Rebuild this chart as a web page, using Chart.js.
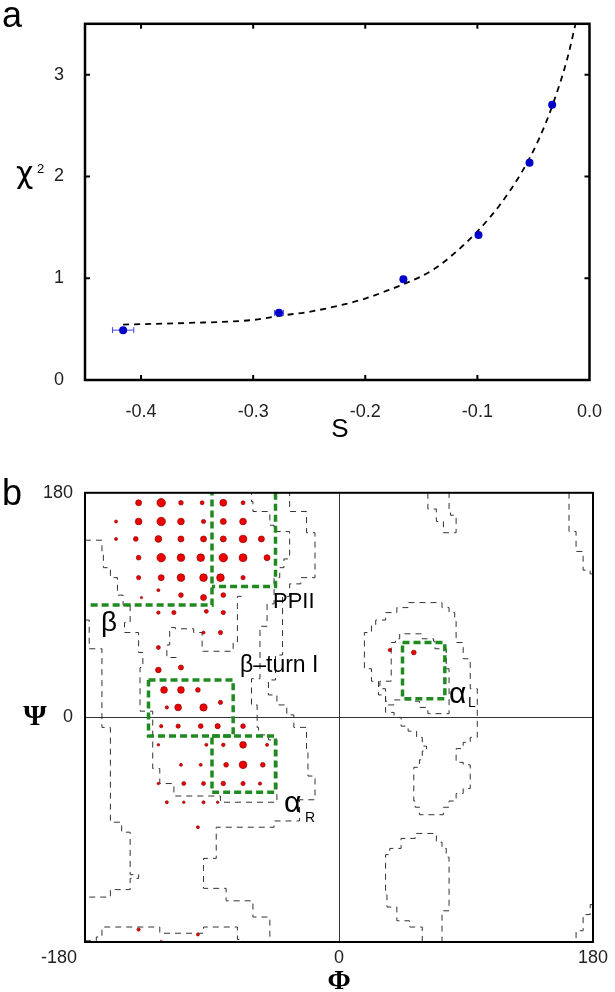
<!DOCTYPE html>
<html>
<head>
<meta charset="utf-8">
<script src="https://cdn.jsdelivr.net/npm/chart.js@4.4.1/dist/chart.umd.min.js"></script>
<style>
html, body { margin: 0; padding: 0; background: #fff; }
#wrapA { position: absolute; left: 0; top: 0; width: 615px; height: 470px; }
#wrapB { position: absolute; left: 0; top: 470px; width: 615px; height: 522px; }
</style>
</head>
<body>
<div id="wrapA"><canvas id="chartA" width="615" height="470"></canvas></div>
<div id="wrapB"><canvas id="chartB" width="615" height="522"></canvas></div>
<script>
// ---- panel a: chi^2 vs S ----
const sVals   = [-0.416, -0.277, -0.166, -0.099, -0.0535, -0.0333];
const chiVals = [0.49, 0.66, 0.99, 1.425, 2.135, 2.705];
const sErr    = [0.0095, 0.004, 0.002, 0.002, 0.002, 0.002];
const fitS    = [-0.416, -0.36, -0.30, -0.277, -0.25, -0.22, -0.20, -0.18, -0.166, -0.14, -0.12, -0.10, -0.08, -0.06, -0.045, -0.033, -0.02, -0.012];
const fitChi  = [0.545, 0.56, 0.59, 0.63, 0.67, 0.74, 0.80, 0.88, 0.94, 1.08, 1.25, 1.46, 1.72, 2.05, 2.37, 2.70, 3.15, 3.52];
const sTicks   = [-0.4, -0.3, -0.2, -0.1, 0];
const chiTicks = [0, 1, 2, 3];

// ---- panel b: Ramachandran map (phi, psi, relative population) ----
const dotPhi = [
  -142, -126, -112, -97, -82, -68,
  -158, -142, -126, -112, -96, -82, -68,
  -158, -144, -128, -112, -96, -82, -68, -55,
  -142, -126, -112, -98, -82, -68, -51,
  -142, -126, -112, -96, -84, -68,
  -140, -128, -112, -96, -82,
  -128, -117, -94, -82,
  -96, -84,
  -128,
  -128, -112,
  -124, -112, -100,
  -122, -114, -96, -84,
  -126, -114, -98, -86, -68,
  -128, -94, -82, -68, -51,
  -112, -98, -80, -68, -54,
  -128, -110, -96, -82, -68, -56,
  -122, -110, -96, -86,
  -100,
  -142, -100, -126,
  36, 53
];
const dotPsi = [
  172, 172, 172, 172, 172, 172,
  157, 157, 157, 157, 157, 157, 157,
  143, 143, 143, 143, 143, 143, 143, 143,
  128, 128, 128, 128, 128, 128, 128,
  112, 112, 112, 112, 112, 112,
  96, 102, 98, 96, 98,
  84, 84, 85, 84,
  68, 68,
  56,
  38, 40,
  22, 22, 22,
  8, 8, 8, 12,
  -7, -7, -7, -7, -7,
  -22, -22, -22, -22, -22,
  -38, -38, -38, -38, -38,
  -53, -53, -53, -53, -53, -53,
  -68, -68, -68, -68,
  -88,
  -170, -174, -180,
  54, 52
];
const dotPop = [
  4, 8, 2.4, 1.7, 5.3, 1.7,
  1, 5, 8, 5, 2, 4, 5,
  1, 2.5, 5, 4, 4, 4, 6.5, 4,
  2.5, 8, 6.5, 6.5, 8, 7, 4,
  2, 4, 6.5, 6.5, 6.5, 2,
  0.6, 1, 2.5, 4, 2.5,
  1.3, 2, 1.7, 2,
  1, 2,
  1.7,
  3.5, 2.8,
  5, 5, 2.5,
  1.2, 5, 6, 2,
  1.2, 2, 2.5, 3, 2.5,
  0.7, 1, 1.4, 5, 1,
  1, 1, 2.5, 6.5, 2.5,
  0.7, 1.7, 1.7, 2.3, 2, 1.2,
  1, 0.7, 1, 0.7,
  1,
  1.2, 1, 1,
  1.2, 2.5
];
const angleTicks = [-180, 0, 180];

// density contours, [phi, psi] vertices
const contourLeftOuter = [[-180,78],[-177,78],[-177,55],[-169,55],[-168,30],[-168,-8],[-162,-38],[-162,-84],[-154,-92],[-148,-97],[-148,-126],[-142,-129],[-148,-138],[-162,-144],[-180,-147]];
const contourLeftInner = [[-180,142],[-176,142],[-168,132],[-167,120],[-162,112],[-157,98],[-153,90],[-148,76],[-152,68],[-142,52],[-139,40],[-141,31],[-141,5],[-132,-7],[-132,-41],[-127,-53],[-117,-63],[-84,-63],[-84,-68],[-46,-68],[-44,-60],[-44,-18],[-50,-14],[-57,-8],[-58,10],[-62,31],[-56,55],[-56,73],[-51,91],[-46,112],[-42,120],[-39,127],[-35,136],[-35,149],[-46,154],[-49,165],[-61,173],[-62,180]];
const contourRightOuter = [[-37,180],[-35,165],[-23,148],[-17,128],[-17,112],[-27,107],[-35,97],[-40,80],[-40,50],[-45,30],[-50,18],[-44,10],[-37,2],[-32,-8],[-23,-28],[-22,-47],[-17,-50],[-17,-66],[-28,-83],[-46,-88],[-87,-88],[-87,-113],[-96,-122],[-96,-137],[-80,-147],[-61,-160],[-49,-173],[-49,-180]];
const contourHole = [[-69,97],[-72,89],[-72,60],[-75,53],[-96,53],[-97,68],[-103,71],[-116,72],[-120,65],[-120,58],[-122,48],[-115,46]];
const contourBottom = [[-180,-179],[-172,-176],[-168,-168],[-128,-168],[-127,-173],[-99,-173],[-96,-168],[-75,-168],[-72,-178],[-68,-180]];
const contourTopMid = [[63,180],[63,167],[69,166],[69,157],[74,157],[74,148],[82,148],[83,162],[79,165],[78,180]];
const contourBottomMid = [[59,-180],[59,-168],[50,-163],[41,-152],[34,-142],[33,-110],[36,-105],[44,-97],[54,-93],[62,-93],[69,-100],[73,-105],[76,-112],[78,-116],[78,-155],[74,-158],[73,-180]];
const contourRightTop = [[163,180],[163,149],[168,145],[168,133],[173,129],[173,118],[178,115],[180,77]];
const contourRightBottom = [[163,-180],[168,-171],[173,-158],[178,-150],[180,-147]];
const contourAlphaOuter = [[18,48],[18,68],[23,74],[26,78],[33,84],[41,88],[49,92],[64,92],[73,88],[78,84],[82,77],[83,60],[88,56],[88,47],[93,42],[93,23],[98,21],[98,-16],[93,-20],[88,-25],[83,-29],[83,-36],[88,-38],[93,-46],[93,-57],[88,-61],[83,-67],[78,-72],[74,-78],[63,-78],[57,-72],[54,-67],[53,-55],[53,-40],[57,-34],[59,-27],[62,-23],[59,-16],[55,-11],[49,-7],[44,0],[39,4],[33,10],[33,18],[28,29],[23,39],[18,48]];
const contourAlphaInner = [[37,60],[40,63],[43,67],[57,67],[59,63],[67,61],[68,55],[76,39],[78,23],[78,3],[63,3],[63,8],[57,13],[52,14],[39,10],[34,13],[33,23],[29,29],[37,44],[37,60]];

// secondary-structure regions
const regionBeta   = [[-176,90],[-90,90],[-90,180]];
const regionPPII   = [[-45,180],[-45,105],[-90,105]];
const regionTurn   = [[-135,30],[-75,30],[-75,-15],[-135,-15],[-135,30]];
const regionAlphaR = [[-90,-15],[-45,-15],[-45,-60],[-90,-60],[-90,-15]];
const regionAlphaL = [[45,60],[75,60],[75,15],[45,15],[45,60]];

const FONT = "'Liberation Sans', Arial, sans-serif";
const SERIF = "'Liberation Serif', 'DejaVu Serif', serif";
const toXY = path => path.map(p => ({ x: p[0], y: p[1] }));

// ---------- chart a ----------
const panelA = {
    id: 'panelA',
    beforeDatasetsDraw(chart) {
        const { ctx, scales: { x, y } } = chart;
        ctx.save();
        ctx.strokeStyle = '#4040f0';
        ctx.lineWidth = 1;
        sVals.forEach((s, i) => {
            const py = y.getPixelForValue(chiVals[i]);
            const x1 = x.getPixelForValue(s - sErr[i]);
            const x2 = x.getPixelForValue(s + sErr[i]);
            ctx.beginPath();
            ctx.moveTo(x1, py); ctx.lineTo(x2, py);
            ctx.moveTo(x1, py - 3); ctx.lineTo(x1, py + 3);
            ctx.moveTo(x2, py - 3); ctx.lineTo(x2, py + 3);
            ctx.stroke();
        });
        ctx.restore();
    },
    afterDraw(chart) {
        const { ctx, chartArea: a, scales: { x, y } } = chart;
        ctx.save();
        ctx.strokeStyle = '#000';
        ctx.lineWidth = 2.5;
        ctx.strokeRect(a.left, a.top, a.right - a.left, a.bottom - a.top);
        // inward tick marks on all four sides
        ctx.lineWidth = 2;
        ctx.beginPath();
        x.ticks.forEach(t => {
            const px = x.getPixelForValue(t.value);
            if (px > a.left + 3 && px < a.right - 3) {
                ctx.moveTo(px, a.bottom); ctx.lineTo(px, a.bottom - 5);
                ctx.moveTo(px, a.top); ctx.lineTo(px, a.top + 5);
            }
        });
        y.ticks.forEach(t => {
            const py = y.getPixelForValue(t.value);
            if (py > a.top + 3 && py < a.bottom - 3) {
                ctx.moveTo(a.left, py); ctx.lineTo(a.left + 5, py);
                ctx.moveTo(a.right, py); ctx.lineTo(a.right - 5, py);
            }
        });
        ctx.stroke();

        ctx.fillStyle = '#000';
        ctx.textBaseline = 'alphabetic';
        ctx.textAlign = 'left';
        ctx.font = '36px ' + FONT;
        ctx.fillText('a', 2, 27);
        ctx.font = '30px "DejaVu Sans", sans-serif';
        ctx.fillText('χ', 16, 183);
        ctx.font = '13px ' + FONT;
        ctx.fillText('2', 37, 173);
        ctx.textAlign = 'center';
        ctx.font = '26px ' + FONT;
        ctx.fillText('S', 340, 437);
        ctx.restore();
    }
};

new Chart(document.getElementById('chartA'), {
    type: 'scatter',
    data: {
        datasets: [{
            data: sVals.map((s, i) => ({ x: s, y: chiVals[i] })),
            backgroundColor: '#0000c8',
            borderWidth: 0,
            pointRadius: 4
        }, {
            data: fitS.map((s, i) => ({ x: s, y: fitChi[i] })),
            showLine: true,
            borderColor: '#000',
            borderWidth: 1.8,
            borderDash: [6, 5],
            pointRadius: 0,
            cubicInterpolationMode: 'monotone'
        }]
    },
    options: {
        responsive: false,
        animation: false,
        events: [],
        layout: { padding: { top: 3, right: 22, left: 0, bottom: 0 } },
        plugins: { legend: { display: false }, tooltip: { enabled: false } },
        scales: {
            x: {
                type: 'linear', min: -0.45, max: 0,
                afterFit: s => { s.height = 90; },
                afterBuildTicks: s => { s.ticks = sTicks.map(v => ({ value: v })); },
                ticks: { callback: v => Number(v).toFixed(1), color: '#222', font: { family: FONT, size: 18 }, padding: 13, autoSkip: false, maxRotation: 0 },
                grid: { display: false },
                border: { display: false }
            },
            y: {
                type: 'linear', min: 0, max: 3.5,
                afterFit: s => { s.width = 85; },
                afterBuildTicks: s => { s.ticks = chiTicks.map(v => ({ value: v })); },
                ticks: { callback: v => String(v), color: '#222', font: { family: FONT, size: 18 }, padding: 13, autoSkip: false },
                grid: { display: false },
                border: { display: false }
            }
        }
    },
    plugins: [panelA]
});

// ---------- chart b ----------
const panelB = {
    id: 'panelB',
    afterDraw(chart) {
        const { ctx, chartArea: a } = chart;
        ctx.save();
        ctx.strokeStyle = '#000';
        ctx.lineWidth = 2;
        ctx.strokeRect(a.left, a.top, a.right - a.left, a.bottom - a.top);

        ctx.fillStyle = '#000';
        ctx.textBaseline = 'alphabetic';
        ctx.textAlign = 'left';
        ctx.font = '36px ' + FONT;
        ctx.fillText('b', 2, 35);
        ctx.font = '22px ' + FONT;
        ctx.fillText('PPII', 273, 138);
        ctx.font = '28px ' + FONT;
        ctx.fillText('β', 101, 161);
        ctx.font = '23px ' + FONT;
        ctx.fillText('β–turn I', 240, 202);
        ctx.font = '30px ' + FONT;
        ctx.fillText('α', 284, 342);
        ctx.fillText('α', 449, 233);
        ctx.font = '14px ' + FONT;
        ctx.fillText('R', 305, 352);
        ctx.fillText('L', 468, 237);
        ctx.font = '18px ' + FONT;
        ctx.textAlign = 'right';
        ctx.fillStyle = '#222';
        ctx.fillText('-180', 77, 493);
        ctx.fillStyle = '#000';
        ctx.textAlign = 'center';
        ctx.font = 'bold 30px ' + SERIF;
        ctx.fillText('Ψ', 35, 255);
        ctx.font = 'bold 28px ' + SERIF;
        ctx.fillText('Φ', 339, 519);
        ctx.restore();
    }
};

const contourPaths = [contourLeftOuter, contourLeftInner, contourRightOuter, contourHole, contourBottom,
    contourTopMid, contourBottomMid, contourRightTop, contourRightBottom, contourAlphaOuter, contourAlphaInner];
const regionPaths = [regionBeta, regionPPII, regionTurn, regionAlphaR, regionAlphaL];

const regionSets = regionPaths.map(p => ({
    data: toXY(p),
    showLine: true,
    borderColor: '#1f8a1f',
    borderWidth: 3.5,
    borderDash: [7, 4],
    pointRadius: 0
}));
const dotSet = {
    data: dotPhi.map((f, i) => ({ x: f, y: dotPsi[i] })),
    backgroundColor: '#ee0000',
    borderColor: '#900000',
    borderWidth: 0.7,
    pointRadius: dotPop.map(w => 1.5 * Math.sqrt(w))
};
const contourSets = contourPaths.map(p => ({
    data: toXY(p),
    showLine: true,
    stepped: true,
    borderColor: '#333',
    borderWidth: 1,
    borderDash: [6, 5],
    pointRadius: 0
}));

new Chart(document.getElementById('chartB'), {
    type: 'scatter',
    data: { datasets: [...regionSets, dotSet, ...contourSets] },
    options: {
        responsive: false,
        animation: false,
        events: [],
        layout: { padding: { top: 14, right: 22, left: 0, bottom: 0 } },
        plugins: { legend: { display: false }, tooltip: { enabled: false } },
        scales: {
            x: {
                type: 'linear', min: -180, max: 180,
                afterFit: s => { s.height = 50; },
                afterBuildTicks: s => { s.ticks = angleTicks.map(v => ({ value: v })); },
                ticks: { callback: v => (v === -180 ? '' : String(v)), color: '#222', font: { family: FONT, size: 18 }, padding: 5, autoSkip: false, maxRotation: 0 },
                grid: { drawTicks: false, lineWidth: 1, color: c => (c.tick && c.tick.value === 0 ? '#333' : 'rgba(0,0,0,0)') },
                border: { display: false }
            },
            y: {
                type: 'linear', min: -180, max: 180,
                afterFit: s => { s.width = 85; },
                afterBuildTicks: s => { s.ticks = angleTicks.map(v => ({ value: v })); },
                ticks: { callback: v => (v === -180 ? '' : String(v)), color: '#222', font: { family: FONT, size: 18 }, padding: 12, autoSkip: false },
                grid: { drawTicks: false, lineWidth: 1, color: c => (c.tick && c.tick.value === 0 ? '#333' : 'rgba(0,0,0,0)') },
                border: { display: false }
            }
        }
    },
    plugins: [panelB]
});
</script>
</body>
</html>
